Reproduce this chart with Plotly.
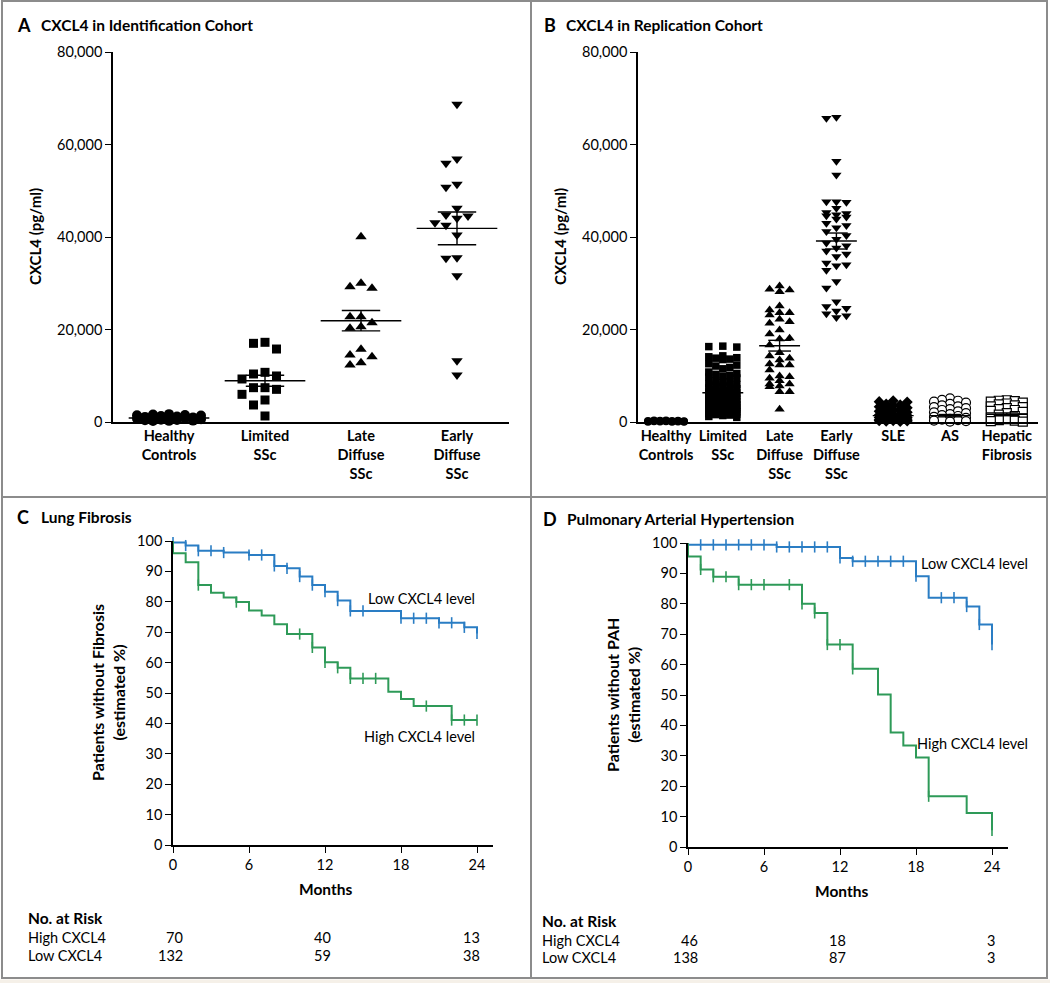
import math
import plotly.graph_objects as go

W, H = 1050, 983
FONT = "Lato"
BLUE = "#2a7dc4"
GREEN = "#2e9a58"
FRAME = "#8c8c8c"

# ---------------- data: panel A (identification cohort) ----------------
a_categories = ["Healthy<br>Controls", "Limited<br>SSc", "Late<br>Diffuse<br>SSc", "Early<br>Diffuse<br>SSc"]
a_healthy = [1700, 1600, 1500, 1450, 1400, 1300, 1200, 1100, 1000, 950, 900, 800, 700, 600, 500, 450, 400, 300, 250, 200]
a_limited = [17230, 17010, 15780, 10740, 10380, 9950, 9300, 7420, 7420, 7060, 5980, 4760, 3680, 1300]
a_late = [40070, 29980, 29260, 28900, 22770, 22770, 21480, 20610, 20250, 15710, 14490, 14120, 12820, 12320]
a_early = [68690, 56860, 55930, 51390, 50740, 46200, 44760, 44540, 44040, 43100, 42520, 40430,
           35530, 35390, 31640, 13260, 10160]
a_means = [870, 8930, 21900, 41870]
a_sem = [120, 1190, 2200, 3530]

# ---------------- data: panel B (replication cohort) ----------------
b_categories = ["Healthy<br>Controls", "Limited<br>SSc", "Late<br>Diffuse<br>SSc", "Early<br>Diffuse<br>SSc",
                "SLE", "AS", "Hepatic<br>Fibrosis"]
b_healthy = [350, 300, 280, 250, 220, 200, 180, 160, 150, 120, 100, 80, 60, 40]
b_limited = [16400, 16300, 16200,
             14300, 14100, 13900, 13800, 13600, 13500,
             12600, 12300, 12100, 11800, 11500,
             10800, 10500, 10300, 10100, 9900, 9700, 9500,
             8900, 8700, 8500, 8300, 8100, 8000, 7800, 7600, 7400, 7200,
             6900, 6800, 6600, 6500, 6300, 6200, 6100, 5900, 5800, 5700, 5500, 5400, 5300, 5100,
             4900, 4800, 4600, 4500, 4400, 4300, 4200, 4000, 3900, 3800, 3700, 3600, 3500, 3400, 3300,
             3200, 3100, 3000,
             2900, 2800, 2700, 2600, 2500, 2400, 2300, 2200, 2100, 2000, 1900, 1800, 1700, 1600, 1500,
             1400, 1200, 1000]
b_late = [29400, 28690, 28540, 28170, 25080, 24220, 23630, 23630, 23140, 22200, 21690, 21340, 19890,
          19030, 18090, 17950, 16650, 14990, 14270, 13770, 13400, 12540, 12320, 12320, 11240, 9950,
          9800, 9450, 8930, 8220, 8220, 7780, 7640, 6560, 6560, 2740]
b_early = [65900, 65700, 56400, 53400, 47600, 47500, 47600, 46200, 45300, 45100, 44800, 44600, 44300,
           43900, 43000, 42500, 42000, 41200, 40300, 39500, 38700, 38100, 37600, 37000, 36300, 35800,
           34400, 34000, 33800, 32800, 30400, 29000, 26000, 25000, 24600, 24000, 23400, 23000, 22600]
b_sle = [4600, 4400, 4300, 3900, 3700, 3500, 3300, 3100, 2900, 2700, 2500, 2300, 2100, 1900, 1700, 1600,
         1500, 1400, 1300, 1200, 1100, 1000, 900, 800, 700, 600, 500, 450, 400, 350, 300, 250, 200, 150, 100]
b_as = [5100, 4800, 4600, 4400, 4200, 3900, 3600, 3400, 3200, 3000, 2800, 2600, 2300, 2100, 1900, 1700,
        1500, 1300, 1100, 900, 700, 500, 400, 300, 200, 100]
b_hep = [4700, 4600, 4500, 4400, 4200, 4000, 3800, 3600, 3400, 3200, 3000, 2800, 2600, 2400, 2200, 1900,
         1600, 1300, 1000, 800, 600, 400, 300, 200, 100]
b_means = [100, 6340, 16500, 39130, 1370, 1370, 1660]
b_sem = [30, 500, 1160, 1730, 250, 250, 300]

y_ticks_conc = [0, 20000, 40000, 60000, 80000]

# ---------------- data: Kaplan-Meier curves ----------------
km_ticks = [0, 6, 12, 18, 24]
c_low_t = [0, 0, 1, 2, 4, 6, 8, 9, 10, 11, 12, 13, 14, 18, 21, 23, 24]
c_low_s = [100, 99.5, 98.5, 96.8, 96.2, 95.4, 91.8, 91.0, 88.3, 85.5, 83.3, 80.4, 77.0, 74.6, 73.1, 71.6, 69.6]
c_low_cens = [0, 1, 2, 3, 4, 6, 7, 8, 9, 10, 11, 12, 13, 14, 15, 18, 19, 20, 21, 22, 23, 24]
c_high_t = [0, 0, 1, 2, 3, 4, 5, 6, 7, 8, 9, 11, 12, 13, 14, 17, 18, 19, 22, 24]
c_high_s = [100, 96.0, 93.0, 85.5, 83.0, 81.4, 79.9, 77.1, 75.5, 72.6, 69.4, 65.0, 60.1, 58.3, 54.8, 50.4,
            48.0, 45.7, 41.1, 41.1]
c_high_cens = [2, 5, 10, 11, 12, 13, 14, 15, 16, 20, 22, 23, 24]

d_low_t = [0, 0, 7, 12, 13, 18, 19, 22, 23, 24]
d_low_s = [100, 99.4, 98.7, 95.1, 94.0, 89.1, 82.0, 79.1, 73.2, 66.6]
d_low_cens = [1, 2, 3, 4, 5, 6, 7, 8, 9, 10, 11, 12, 13, 14, 15, 16, 17, 18, 20, 21, 22, 23, 24]
d_high_t = [0, 0, 1, 2, 4, 9, 10, 11, 13, 15, 16, 17, 18, 19, 22, 24]
d_high_s = [100, 95.6, 91.3, 88.9, 86.3, 80.0, 77.0, 66.6, 58.6, 50.2, 37.7, 33.4, 29.4, 16.7, 11.2, 5.5]
d_high_cens = [1, 2, 3, 4, 5, 6, 8, 9, 10, 11, 12, 13, 19, 24]

risk_times = [0, 12, 24]
c_risk_high = [70, 40, 13]
c_risk_low = [132, 59, 38]
d_risk_high = [46, 18, 3]
d_risk_low = [138, 87, 3]

# ---------------- layout geometry (pixels) ----------------
def px(x):
    return x / W


def py(y):
    return 1 - y / H


A_X0, A_X1, A_C0, A_STEP = 113, 509, 169, 96.0
B_X0, B_X1, B_C0, B_STEP = 638, 1038, 666, 56.8
Y_TOP, Y_BOT = 52, 422
C_X0, C_X1, C_YT, C_YB = 173, 493, 541, 845
D_X0, D_X1, D_YT, D_YB = 688, 1008, 543, 847
KM_XMAX = 24 * (C_X1 - C_X0) / (477 - 173)
Y_PX_PER = (Y_BOT - Y_TOP) / 80000.0


def swarm(vals, unit_px, step_px, max_px, size_px):
    """Beeswarm-style horizontal offsets (in category units) for the values."""
    cands = [0.0]
    k = 1
    while k * step_px <= max_px + 1e-9:
        cands += [-k * step_px, k * step_px]
        k += 1
    placed = []
    offs = [0.0] * len(vals)
    order = sorted(range(len(vals)), key=lambda i: -vals[i])
    for i in order:
        yp = vals[i] * Y_PX_PER
        best, bestd = 0.0, -1
        chosen = None
        for c in cands:
            d = min([math.hypot(c - a, yp - b) for a, b in placed] or [1e9])
            if d >= size_px:
                chosen = c
                break
            if d > bestd:
                bestd, best = d, c
        if chosen is None:
            chosen = best
        placed.append((chosen, yp))
        offs[i] = chosen / unit_px
    return offs


fig = go.Figure()


def add_group(xa, ya, idx, vals, unit_px, step, mx, size, symbol, filled=True, msize=9):
    offs = swarm(vals, unit_px, step, mx, size)
    fig.add_trace(go.Scatter(
        x=[idx + o for o in offs], y=vals, mode="markers", xaxis=xa, yaxis=ya,
        cliponaxis=False, showlegend=False, hoverinfo="skip",
        marker=dict(symbol=symbol, size=msize,
                    color="black" if filled else "white",
                    line=dict(color="black" if filled else "black", width=0 if filled else 1.2))))


def add_meansem(xa, ya, means, sems, half_w, cap_w):
    xs, ys = [], []
    for i, (m, s) in enumerate(zip(means, sems)):
        xs += [i - half_w, i + half_w, None, i - cap_w, i + cap_w, None,
               i - cap_w, i + cap_w, None, i, i, None]
        ys += [m, m, None, m + s, m + s, None, m - s, m - s, None, m - s, m + s, None]
    fig.add_trace(go.Scatter(x=xs, y=ys, mode="lines", xaxis=xa, yaxis=ya, cliponaxis=False,
                             line=dict(color="black", width=1.4), showlegend=False, hoverinfo="skip"))


# Panel A points
add_group("x", "y", 0, a_healthy, A_STEP, 8, 36, 9, "circle", msize=10)
add_group("x", "y", 1, a_limited, A_STEP, 11.5, 24, 9.5, "square", msize=9)
add_group("x", "y", 2, a_late, A_STEP, 11, 24, 9.5, "triangle-up", msize=10)
add_group("x", "y", 3, a_early, A_STEP, 11, 36, 9.5, "triangle-down", msize=10)
add_meansem("x", "y", a_means, a_sem, 0.42, 0.2)

# Panel B points
add_group("x2", "y2", 0, b_healthy, B_STEP, 6, 20, 7, "circle", msize=8)
add_group("x2", "y2", 1, b_limited, B_STEP, 7, 18, 7.5, "square", msize=7.5)
add_group("x2", "y2", 2, b_late, B_STEP, 10, 15, 9, "triangle-up", msize=9)
add_group("x2", "y2", 3, b_early, B_STEP, 10, 17, 9, "triangle-down", msize=9)
add_group("x2", "y2", 4, b_sle, B_STEP, 7, 18, 7.5, "diamond", msize=8.5)
add_group("x2", "y2", 5, b_as, B_STEP, 8, 18, 8, "circle", filled=False, msize=9)
add_group("x2", "y2", 6, b_hep, B_STEP, 8, 18, 8, "square", filled=False, msize=9)
add_meansem("x2", "y2", b_means, b_sem, 0.36, 0.2)


def step_value(ts, ss, t):
    v = ss[0]
    for tt, s in zip(ts, ss):
        if tt <= t:
            v = s
    return v


def add_km(xa, ya, ts, ss, cens, color):
    fig.add_trace(go.Scatter(x=ts, y=ss, mode="lines", line=dict(color=color, width=2, shape="hv"),
                             xaxis=xa, yaxis=ya, cliponaxis=False, showlegend=False, hoverinfo="skip"))
    fig.add_trace(go.Scatter(x=cens, y=[step_value(ts, ss, t) for t in cens], mode="markers",
                             marker=dict(symbol="line-ns-open", size=8, color=color,
                                         line=dict(color=color, width=1.6)),
                             xaxis=xa, yaxis=ya, cliponaxis=False, showlegend=False, hoverinfo="skip"))


add_km("x3", "y3", c_low_t, c_low_s, c_low_cens, BLUE)
add_km("x3", "y3", c_high_t, c_high_s, c_high_cens, GREEN)
add_km("x4", "y4", d_low_t, d_low_s, d_low_cens, BLUE)
add_km("x4", "y4", d_high_t, d_high_s, d_high_cens, GREEN)

axis_common = dict(showline=True, linecolor="black", linewidth=1.5, showgrid=False, zeroline=False,
                   automargin=False,
                   tickcolor="black", tickfont=dict(family=FONT, size=14.5, color="black"))

conc_y = dict(axis_common, range=[0, 80000], tickvals=y_ticks_conc, tickformat=",d",
              ticks="outside", ticklen=6, tickwidth=1.3)
cat_x = dict(axis_common, ticks="", tickfont=dict(family=FONT, size=14.5, color="black", weight="bold"))
km_y = dict(axis_common, range=[0, 100], tickvals=list(range(0, 101, 10)), ticks="outside",
            ticklen=6, tickwidth=1.3)
km_x = dict(axis_common, range=[0, KM_XMAX], tickvals=km_ticks, ticks="outside", ticklen=6, tickwidth=1.3)

fig.update_layout(
    template="none",
    width=W, height=H, margin=dict(l=0, r=0, t=0, b=0, pad=0, autoexpand=False),
    paper_bgcolor="white", plot_bgcolor="white", showlegend=False,
    font=dict(family=FONT, color="black"),
    xaxis=dict(cat_x, domain=[px(A_X0), px(A_X1)], anchor="y",
               range=[(A_X0 - A_C0) / A_STEP, (A_X1 - A_C0) / A_STEP],
               tickvals=list(range(len(a_categories))), ticktext=a_categories),
    yaxis=dict(conc_y, domain=[py(Y_BOT), py(Y_TOP)], anchor="x"),
    xaxis2=dict(cat_x, domain=[px(B_X0), px(B_X1)], anchor="y2",
                range=[(B_X0 - B_C0) / B_STEP, (B_X1 - B_C0) / B_STEP],
                tickvals=list(range(len(b_categories))), ticktext=b_categories),
    yaxis2=dict(conc_y, domain=[py(Y_BOT), py(Y_TOP)], anchor="x2"),
    xaxis3=dict(km_x, domain=[px(C_X0), px(C_X1)], anchor="y3"),
    yaxis3=dict(km_y, domain=[py(C_YB), py(C_YT)], anchor="x3"),
    xaxis4=dict(km_x, domain=[px(D_X0), px(D_X1)], anchor="y4"),
    yaxis4=dict(km_y, domain=[py(D_YB), py(D_YT)], anchor="x4"),
)

# frame lines
shapes = [
    dict(type="rect", xref="paper", yref="paper", x0=0, x1=1, y0=0, y1=py(979.5),
         fillcolor="#f5f0e8", line=dict(width=0)),
    dict(type="rect", xref="paper", yref="paper", x0=px(2), x1=px(1047), y0=py(978), y1=py(1),
         line=dict(color=FRAME, width=2)),
    dict(type="line", xref="paper", yref="paper", x0=px(531), x1=px(531), y0=py(978), y1=py(1),
         line=dict(color=FRAME, width=2)),
    dict(type="line", xref="paper", yref="paper", x0=px(2), x1=px(1047), y0=py(497), y1=py(497),
         line=dict(color=FRAME, width=2)),
]
fig.update_layout(shapes=shapes)

ann = []


def text(x, y, s, size=14, bold=False, xanchor="left", yanchor="middle", angle=0, xref="paper", xshift=0):
    ann.append(dict(x=x if xref != "paper" else px(x), y=py(y), xref=xref, yref="paper",
                    text=s, showarrow=False, xanchor=xanchor, yanchor=yanchor, textangle=angle,
                    xshift=xshift,
                    font=dict(family=FONT, size=size, color="black", weight="bold" if bold else "normal")))


# panel titles
text(15, 25, "A", 18, True)
text(39, 25, "CXCL4 in Identification Cohort", 15.5, True)
text(542, 25, "B", 18, True)
text(564, 25, "CXCL4 in Replication Cohort", 15.5, True)
text(15, 517, "C", 18, True)
text(39, 517, "Lung Fibrosis", 15.5, True)
text(541, 519, "D", 18, True)
text(565, 519, "Pulmonary Arterial Hypertension", 15.5, True)

# axis titles
text(35, 237, "CXCL4 (pg/ml)", 15, True, "center", angle=-90)
text(560, 237, "CXCL4 (pg/ml)", 15, True, "center", angle=-90)
text(108, 693, "Patients without Fibrosis<br>(estimated %)", 16, True, "center", angle=-90)
text(623, 695, "Patients without PAH<br>(estimated %)", 16, True, "center", angle=-90)
text(325, 889, "Months", 15.5, True, "center")
text(841, 891, "Months", 15.5, True, "center")

# curve labels
text(477, 598, "Low CXCL4 level", 14.5, False, "right")
text(477, 736, "High CXCL4 level", 14.5, False, "right")
text(1030, 563, "Low CXCL4 level", 14.5, False, "right")
text(1030, 743, "High CXCL4 level", 14.5, False, "right")

# risk tables
text(26, 918, "No. at Risk", 15.5, True)
text(26, 937, "High CXCL4", 14.5)
text(26, 955, "Low CXCL4", 14.5)
text(540, 921, "No. at Risk", 15.5, True)
text(540, 940, "High CXCL4", 14.5)
text(540, 957, "Low CXCL4", 14.5)
shifts = [12, 8, 5]
for t, sh, hi, lo in zip(risk_times, shifts, c_risk_high, c_risk_low):
    text(t, 937, str(hi), 14.5, False, "right", xref="x3", xshift=sh)
    text(t, 955, str(lo), 14.5, False, "right", xref="x3", xshift=sh)
for t, sh, hi, lo in zip(risk_times, shifts, d_risk_high, d_risk_low):
    text(t, 940, str(hi), 14.5, False, "right", xref="x4", xshift=sh)
    text(t, 957, str(lo), 14.5, False, "right", xref="x4", xshift=sh)

fig.update_layout(annotations=ann)
fig.write_html(
    "out.html",
    config={"displayModeBar": False},
    post_script=("document.documentElement.style.overflow='hidden';"
                 "document.body.style.margin='0';document.body.style.overflow='hidden';"
                 "var d=document.getElementById('{plot_id}');"
                 "d.style.position='fixed';d.style.top='0px';d.style.left='0px';"),
)
